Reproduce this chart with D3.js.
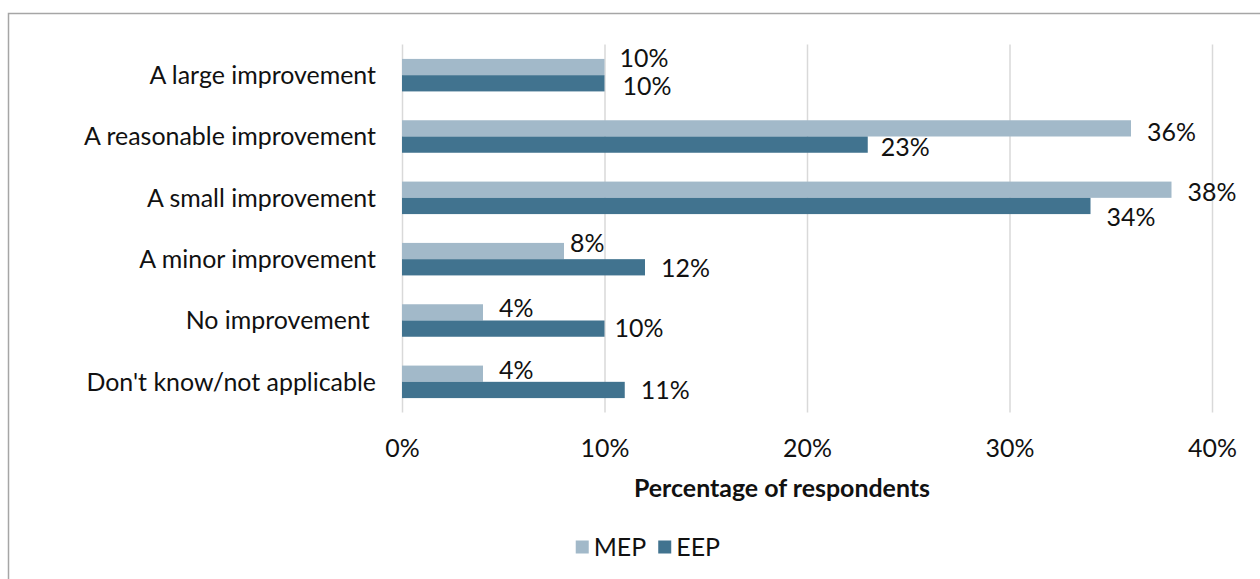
<!DOCTYPE html>
<html>
<head>
<meta charset="utf-8">
<script src="https://cdn.jsdelivr.net/npm/d3@7"></script>
<style>
  html, body { margin: 0; padding: 0; background: #fff; }
  svg { display: block; }
  text { font-family: Lato, "Open Sans", sans-serif; fill: #111; }
</style>
</head>
<body>
<svg id="chart" width="1260" height="579"></svg>
<script>
const categories = ["A large improvement", "A reasonable improvement", "A small improvement",
                    "A minor improvement", "No improvement ", "Don't know/not applicable"];
const seriesNames = ["MEP", "EEP"];
const mepValues = [10, 36, 38, 8, 4, 4];
const eepValues = [10, 23, 34, 12, 10, 11];
const tickValues = [0, 10, 20, 30, 40];
const axisTitle = "Percentage of respondents";

// label nudges (style only)
const labelDx = { MEP: [15, 16, 16, 6, 16, 16], EEP: [18, 13, 16, 16, 10, 16] };
const labelDy = { MEP: [-8.5, 4, 2.5, -8, -4, -3], EEP: [2.5, 3, 11, 1, 0, 0] };
const colors = { MEP: "#A2B9C9", EEP: "#41738F" };

const svg = d3.select("#chart");

// fit font size to reference text width
const probe = svg.append("text").attr("font-size", 100).text("A reasonable improvement");
const fs = 100 * 292 / probe.node().getComputedTextLength();
probe.remove();

// chart border
svg.append("rect").attr("x", 8.5).attr("y", 13.5).attr("width", 1300).attr("height", 600)
  .attr("fill", "none").attr("stroke", "#A6A6A6").attr("stroke-width", 1.5);

const x = d3.scaleLinear().domain([0, 40]).range([402, 1212]);
const y0 = d3.scaleBand().domain(categories).range([44.5, 412.5]).padding(0);
const y1 = d3.scaleBand().domain(seriesNames).range([0, y0.bandwidth()]).paddingInner(0).paddingOuter(0.887);

// gridlines + tick labels via axis
const axis = d3.axisBottom(x).tickValues(tickValues).tickFormat(d => d + "%")
  .tickSize(-(412.5 - 44.5)).tickPadding(0);
const gAxis = svg.append("g").attr("transform", "translate(0,412.5)").call(axis);
gAxis.select(".domain").remove();
gAxis.selectAll(".tick line").attr("stroke", "#D9D9D9").attr("stroke-width", 1.5);
gAxis.selectAll(".tick text").attr("font-size", fs).attr("fill", "#111")
  .attr("font-family", "Lato, 'Open Sans', sans-serif")
  .attr("y", 36).attr("dy", "0.35em");

// category labels
svg.append("g").selectAll("text").data(categories).join("text")
  .attr("x", 376).attr("y", d => y0(d) + y0.bandwidth() / 2)
  .attr("dy", "0.35em").attr("text-anchor", "end").attr("font-size", fs)
  .style("white-space", "pre")
  .text(d => d);

// bars
const rows = categories.map((c, i) => ({ cat: c, i, MEP: mepValues[i], EEP: eepValues[i] }));
const gRow = svg.append("g").selectAll("g").data(rows).join("g")
  .attr("transform", d => `translate(0,${y0(d.cat)})`);
gRow.selectAll("rect").data(d => seriesNames.map(s => ({ s, v: d[s], i: d.i }))).join("rect")
  .attr("x", x(0)).attr("y", d => y1(d.s))
  .attr("width", d => x(d.v) - x(0)).attr("height", y1.bandwidth())
  .attr("fill", d => colors[d.s]);
gRow.selectAll("text").data(d => seriesNames.map(s => ({ s, v: d[s], i: d.i }))).join("text")
  .attr("x", d => x(d.v) + labelDx[d.s][d.i])
  .attr("y", d => y1(d.s) + y1.bandwidth() / 2 + labelDy[d.s][d.i])
  .attr("dy", "0.35em").attr("font-size", fs)
  .text(d => d.v + "%");

// axis title
svg.append("text").attr("x", 782).attr("y", 488).attr("dy", "0.35em")
  .attr("text-anchor", "middle").attr("font-size", fs).attr("font-weight", "bold")
  .text(axisTitle);

// legend
const legend = svg.append("g");
let lx = 0;
seriesNames.forEach((s) => {
  const g = legend.append("g").attr("transform", `translate(${lx},0)`);
  g.append("rect").attr("x", 0).attr("y", -6.5).attr("width", 13).attr("height", 13).attr("fill", colors[s]);
  const t = g.append("text").attr("x", 18).attr("y", 0).attr("dy", "0.35em").attr("font-size", fs).text(s);
  lx += 18 + t.node().getComputedTextLength() + 12;
});
const legendW = lx - 12;
legend.attr("transform", `translate(${720 - legendW},547)`);
</script>
</body>
</html>
